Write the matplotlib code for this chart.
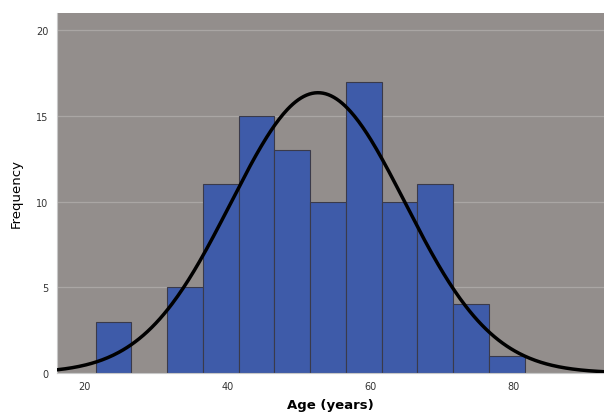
import numpy as np
import matplotlib
matplotlib.use("Agg")
import matplotlib.pyplot as plt

bin_edges = [21.5, 26.5, 31.5, 36.5, 41.5, 46.5, 51.5, 56.5, 61.5, 66.5, 71.5, 76.5, 81.5]
counts = [3, 0, 5, 11, 15, 13, 10, 17, 10, 11, 4, 1]
curve_mean = 52.6
curve_sd = 12.2
n_total = 100
bin_width = 5
x_ticks = [20, 40, 60, 80]
y_ticks = [0, 5, 10, 15, 20]

fig = plt.figure(figsize=(6.04, 4.14), dpi=100)
ax = fig.add_axes([57/604, 40/414, 547/604, 360/414])
ax.set_facecolor("#938e8c")
ax.set_xlim(16.1, 92.6)
ax.set_ylim(0, 21)
ax.set_yticks(y_ticks)
ax.set_xticks(x_ticks)
ax.grid(axis="y", color="#aaa6a4", linewidth=0.9)
ax.set_axisbelow(True)

lefts = bin_edges[:-1]
widths = np.diff(bin_edges)
ax.bar(lefts, counts, width=widths, align="edge", color="#3e5ba9",
       edgecolor="#3a3a4a", linewidth=0.8, zorder=2)

xs = np.linspace(16.1, 92.6, 400)
ys = n_total * bin_width / (curve_sd * np.sqrt(2 * np.pi)) * np.exp(-0.5 * ((xs - curve_mean) / curve_sd) ** 2)
ax.plot(xs, ys, color="black", linewidth=2.5, zorder=3)

for s in ["top", "right"]:
    ax.spines[s].set_visible(False)
ax.spines["left"].set_color("#c8c8c8")
ax.spines["bottom"].set_color("#c8c8c8")
ax.tick_params(length=0, labelsize=7, colors="#333333", pad=6)
ax.set_ylabel("Frequency", fontsize=9.5, labelpad=10)
ax.set_xlabel("Age (years)", fontsize=9.5, fontweight="bold", labelpad=11)
ax.xaxis.set_label_coords(0.5, -0.07)
ax.xaxis.label.set_va("top")

fig.savefig("out.png", dpi=100)
